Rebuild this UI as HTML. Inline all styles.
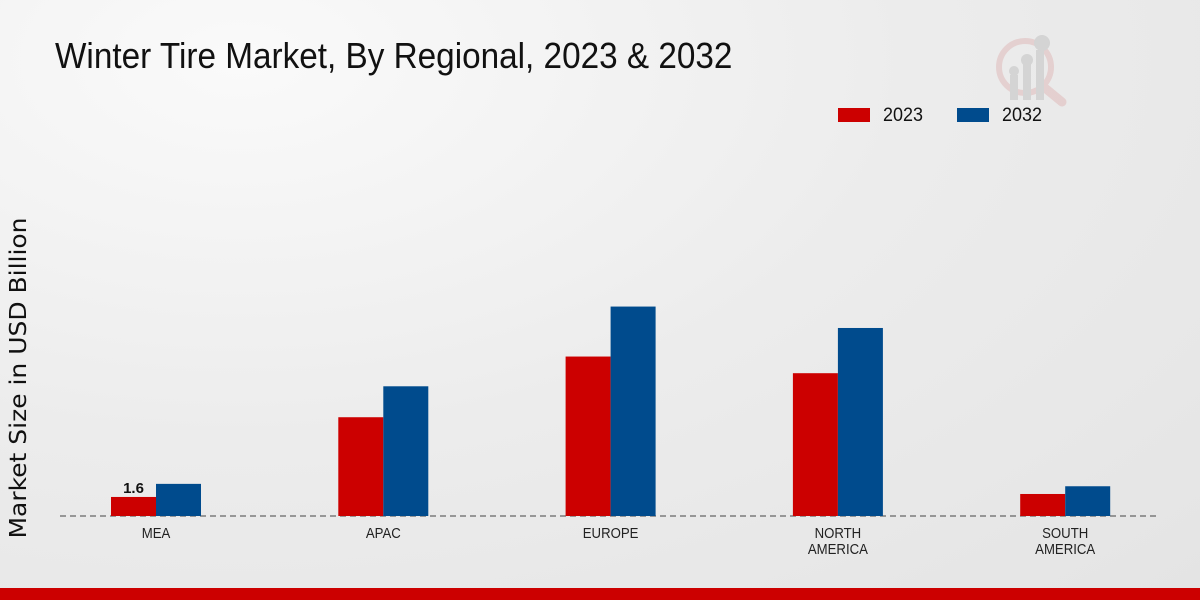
<!DOCTYPE html>
<html><head><meta charset="utf-8"><style>
html,body{margin:0;padding:0;}
body{width:1200px;height:600px;overflow:hidden;background:radial-gradient(ellipse at 20% 10%,#fafafa 0%,#ececec 50%,#e4e4e4 100%);font-family:"Liberation Sans",sans-serif;position:relative;}
#title{position:absolute;left:55px;top:35px;font-size:36px;color:#111;transform:scaleX(0.925);transform-origin:left top;white-space:nowrap;}
svg{position:absolute;left:0;top:0;}
#bottom{position:absolute;left:0;top:588px;width:1200px;height:12px;background:#cc0000;}
</style></head><body>
<div id="title">Winter Tire Market, By Regional, 2023 &amp; 2032</div>
<svg width="1200" height="600" id="chart">
<g opacity="0.35">
<circle cx="1025" cy="67" r="26" fill="none" stroke="#d9a0a0" stroke-width="6"/>
<line x1="1045" y1="88" x2="1062" y2="102" stroke="#d9a0a0" stroke-width="9" stroke-linecap="round"/>
<rect x="1010" y="75" width="8" height="25" fill="#aaa"/><rect x="1023" y="63" width="8" height="37" fill="#aaa"/><rect x="1036" y="50" width="8" height="50" fill="#aaa"/>
<circle cx="1014" cy="71" r="5" fill="#aaa"/><circle cx="1027" cy="60" r="6" fill="#aaa"/><circle cx="1042" cy="43" r="8" fill="#aaa"/>
</g>
<rect x="838" y="108" width="32" height="14" fill="#cc0000"/>
<text x="883" y="121" font-size="19" fill="#111" textLength="40" lengthAdjust="spacingAndGlyphs">2023</text>
<rect x="957" y="108" width="32" height="14" fill="#004b8d"/>
<text x="1002" y="121" font-size="19" fill="#111" textLength="40" lengthAdjust="spacingAndGlyphs">2032</text>
<text transform="translate(26,378) rotate(-90)" text-anchor="middle" font-size="23" fill="#111" font-family="DejaVu Sans, sans-serif" textLength="321" lengthAdjust="spacingAndGlyphs">Market Size in USD Billion</text>
<line x1="60" y1="516" x2="1160" y2="516" stroke="#444" stroke-dasharray="6,4"/>
<g id="bars"></g>
</svg>
<div id="bottom"></div>
<script>
const categories=[["MEA"],["APAC"],["EUROPE"],["NORTH","AMERICA"],["SOUTH","AMERICA"]];
const values2023=[1.6,8.3,13.4,12.0,1.85];
const values2032=[2.7,10.9,17.6,15.8,2.5];
const ns="http://www.w3.org/2000/svg";
const g=document.getElementById("bars");
const base=516,scale=11.9,x0=156,step=227.3,bw=45;
const y=v=>base-v*scale;
const xc=i=>x0+i*step;
function mk(t,a){const e=document.createElementNS(ns,t);for(const k in a)e.setAttribute(k,a[k]);g.appendChild(e);return e;}
categories.forEach((c,i)=>{
 const r1=mk("rect",{x:xc(i)-bw,y:y(values2023[i]),width:bw,height:values2023[i]*scale,fill:"#cc0000"});
 
 
 const r2=mk("rect",{x:xc(i),y:y(values2032[i]),width:bw,height:values2032[i]*scale,fill:"#004b8d"});
 
 
 c.forEach((ln,j)=>{
  const t=mk("text",{x:xc(i),y:538+j*16,"text-anchor":"middle","font-size":"15",fill:"#222",transform:`translate(${xc(i)},0) scale(0.88,1) translate(${-xc(i)},0)`});
  t.textContent=ln;
  
  
 });
});
const lbl=mk("text",{x:xc(0)-bw/2,y:y(values2023[0])-4,"text-anchor":"middle","font-size":"15","font-weight":"bold",fill:"#111"});
lbl.textContent=values2023[0];


</script>
</body></html>
